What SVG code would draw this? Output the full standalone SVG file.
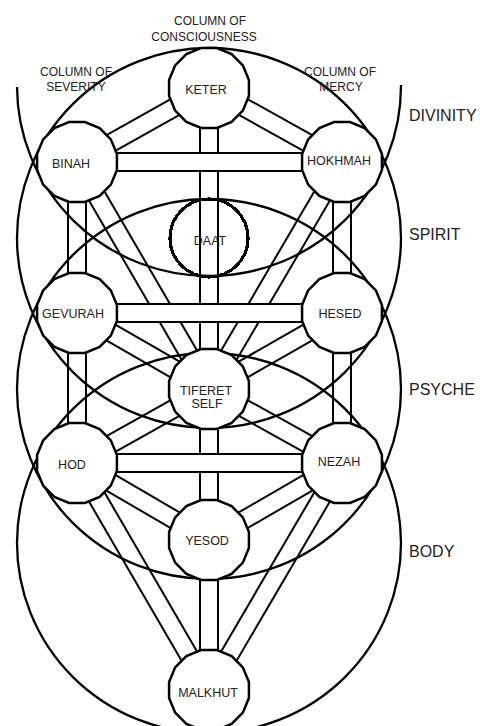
<svg xmlns="http://www.w3.org/2000/svg" width="480" height="726" viewBox="0 0 480 726">
<style>
.ch line{stroke:#000;stroke-width:2;fill:none}
.hz rect{fill:#fff;stroke:none}
.ring{stroke:#000;stroke-width:2.3;fill:none}
.sep{fill:#fff;stroke:#000;stroke-width:2.5}
.daat{fill:none;stroke:#000;stroke-width:3.2}
text{font-family:"Liberation Sans",Arial,Helvetica,sans-serif;fill:#222}
.lbl{font-size:12.5px;text-anchor:middle}
.hdr{font-size:12px;text-anchor:middle}
.big{font-size:16px}
</style>
<defs>
<polygon id="sep" class="sep" points="39.92,7.94 33.84,22.61 22.61,33.84 7.94,39.92 -7.94,39.92 -22.61,33.84 -33.84,22.61 -39.92,7.94 -39.92,-7.94 -33.84,-22.61 -22.61,-33.84 -7.94,-39.92 7.94,-39.92 22.61,-33.84 33.84,-22.61 39.92,-7.94"/>
</defs>
<rect width="480" height="726" fill="#fff"/>

<g id="connectors" class="ch">
<!-- Keter-Binah -->
<line x1="204.6" y1="80.15" x2="72.6" y2="154.15"/><line x1="213.4" y1="95.85" x2="81.4" y2="169.85"/>
<!-- Keter-Hokhmah -->
<line x1="204.6" y1="95.86" x2="337.6" y2="169.86"/><line x1="213.4" y1="80.14" x2="346.4" y2="154.14"/>
<!-- Keter-Tiferet (through Daat) -->
<line x1="200" y1="88" x2="200" y2="389"/><line x1="218" y1="88" x2="218" y2="389"/>
<!-- Hokhmah-Tiferet -->
<line x1="334.2" y1="157.45" x2="201.2" y2="384.45"/><line x1="349.8" y1="166.55" x2="216.8" y2="393.55"/>
<!-- Binah-Tiferet -->
<line x1="69.2" y1="166.5" x2="201.2" y2="393.5"/><line x1="84.8" y1="157.5" x2="216.8" y2="384.5"/>
<!-- Hokhmah-Hesed -->
<line x1="333" y1="162" x2="333" y2="313"/><line x1="351" y1="162" x2="351" y2="313"/>
<!-- Binah-Gevurah -->
<line x1="68" y1="162" x2="68" y2="313"/><line x1="86" y1="162" x2="86" y2="313"/>
<!-- Hesed-Tiferet -->
<line x1="337.5" y1="305.2" x2="204.5" y2="381.2"/><line x1="346.5" y1="320.8" x2="213.5" y2="396.8"/>
<!-- Gevurah-Tiferet -->
<line x1="72.5" y1="320.8" x2="204.5" y2="396.8"/><line x1="81.5" y1="305.2" x2="213.5" y2="381.2"/>
<!-- Hesed-Nezah -->
<line x1="333" y1="313" x2="333" y2="463"/><line x1="351" y1="313" x2="351" y2="463"/>
<!-- Gevurah-Hod -->
<line x1="68" y1="313" x2="68" y2="463"/><line x1="86" y1="313" x2="86" y2="463"/>
<!-- Tiferet-Nezah -->
<line x1="204.6" y1="396.86" x2="337.6" y2="470.86"/><line x1="213.4" y1="381.14" x2="346.4" y2="455.14"/>
<!-- Tiferet-Hod -->
<line x1="204.6" y1="381.15" x2="72.6" y2="455.15"/><line x1="213.4" y1="396.85" x2="81.4" y2="470.85"/>
<!-- Tiferet-Yesod -->
<line x1="200" y1="389" x2="200" y2="540"/><line x1="218" y1="389" x2="218" y2="540"/>
<!-- Nezah-Yesod -->
<line x1="337.5" y1="455.2" x2="204.5" y2="532.2"/><line x1="346.5" y1="470.8" x2="213.5" y2="547.8"/>
<!-- Hod-Yesod -->
<line x1="72.5" y1="470.8" x2="204.5" y2="547.8"/><line x1="81.5" y1="455.2" x2="213.5" y2="532.2"/>
<!-- Nezah-Malkhut -->
<line x1="334.2" y1="458.45" x2="201.2" y2="685.45"/><line x1="349.8" y1="467.55" x2="216.8" y2="694.55"/>
<!-- Hod-Malkhut -->
<line x1="69.2" y1="467.5" x2="201.2" y2="694.5"/><line x1="84.8" y1="458.5" x2="216.8" y2="685.5"/>
<!-- Yesod-Malkhut -->
<line x1="200" y1="540" x2="200" y2="690"/><line x1="218" y1="540" x2="218" y2="690"/>
<!-- horizontal channels (drawn over the others) -->
<g class="hz">
<rect x="77" y="153" width="265" height="18"/>
<line x1="77" y1="153" x2="342" y2="153"/><line x1="77" y1="171" x2="342" y2="171"/>
<rect x="77" y="304" width="265" height="18"/>
<line x1="77" y1="304" x2="342" y2="304"/><line x1="77" y1="322" x2="342" y2="322"/>
<rect x="77" y="454" width="265" height="18"/>
<line x1="77" y1="454" x2="342" y2="454"/><line x1="77" y1="472" x2="342" y2="472"/>
</g>
</g>

<g id="realms">
<path id="divinity-ring" class="ring" d="M17,87 A192,190 0 0 0 401,85"/>
<ellipse id="spirit-ring" class="ring" cx="209" cy="238" rx="192" ry="190"/>
<ellipse id="psyche-ring" class="ring" cx="209" cy="389" rx="192" ry="190"/>
<ellipse id="body-ring" class="ring" cx="209" cy="543" rx="192" ry="190"/>
</g>

<g id="keter" transform="translate(209,88)"><use href="#sep"/><text class="lbl" x="-3" y="6">KETER</text></g>
<g id="binah" transform="translate(77,162)"><use href="#sep"/><text class="lbl" x="-6" y="6">BINAH</text></g>
<g id="hokhmah" transform="translate(342,162)"><use href="#sep"/><text class="lbl" x="-3" y="3">HOKHMAH</text></g>
<g id="daat" transform="translate(209,238)"><circle class="daat" r="39" shape-rendering="crispEdges"/><text class="lbl" x="1" y="7">DAAT</text></g>
<g id="gevurah" transform="translate(77,313)"><use href="#sep"/><text class="lbl" x="-4" y="5">GEVURAH</text></g>
<g id="hesed" transform="translate(342,313)"><use href="#sep"/><text class="lbl" x="-2" y="5">HESED</text></g>
<g id="tiferet" transform="translate(209,389)"><use href="#sep"/><text class="lbl" x="-3" y="6">TIFERET</text><text class="lbl" x="-2" y="19">SELF</text></g>
<g id="hod" transform="translate(77,463)"><use href="#sep"/><text class="lbl" x="-5" y="6">HOD</text></g>
<g id="nezah" transform="translate(342,463)"><use href="#sep"/><text class="lbl" x="-3" y="3">NEZAH</text></g>
<g id="yesod" transform="translate(209,540)"><use href="#sep"/><text class="lbl" x="-2" y="5">YESOD</text></g>
<g id="malkhut" transform="translate(209,690)"><use href="#sep"/><text class="lbl" x="-1" y="7">MALKHUT</text></g>

<g id="column-labels">
<text class="hdr" x="210" y="25">COLUMN OF</text>
<text class="hdr" x="204" y="41">CONSCIOUSNESS</text>
<text class="hdr" x="76" y="76">COLUMN OF</text>
<text class="hdr" x="76" y="91">SEVERITY</text>
<text class="hdr" x="340" y="76">COLUMN OF</text>
<text class="hdr" x="341" y="91">MERCY</text>
</g>
<g id="realm-labels">
<text class="big" x="409" y="121">DIVINITY</text>
<text class="big" x="409" y="240">SPIRIT</text>
<text class="big" x="409" y="395">PSYCHE</text>
<text class="big" x="409" y="557">BODY</text>
</g>
</svg>
